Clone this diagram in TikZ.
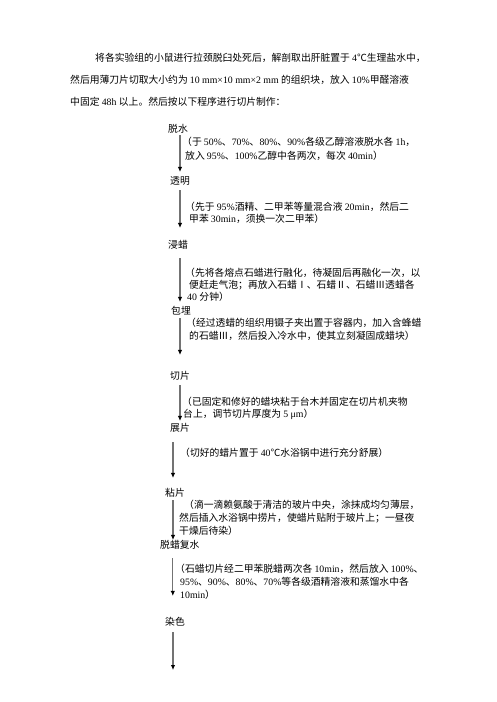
\documentclass[tikz,border=0pt]{standalone}
\usepackage{fontspec}
\setmainfont{Liberation Serif}
\newfontfamily\cjkfont{Noto Sans CJK SC}
\usetikzlibrary{arrows.meta}
% switch to the CJK font for Chinese characters
\XeTeXinterchartokenstate=1
\newXeTeXintercharclass\cjkclass
\newcount\cjkcount
\newcommand\cjkrange[2]{\cjkcount=#1\relax\loop\XeTeXcharclass\cjkcount=\cjkclass\advance\cjkcount by 1\relax\ifnum\cjkcount<#2\relax\repeat}
\cjkrange{"4E00}{"A000}
\cjkrange{"3000}{"3040}
\cjkrange{"FF00}{"FFF0}
\cjkrange{"2103}{"2104}
\cjkrange{"2160}{"2170}
\XeTeXinterchartoks 0 \cjkclass = {\cjkfont}
\XeTeXinterchartoks 4095 \cjkclass = {\cjkfont}
\XeTeXinterchartoks \cjkclass 0 = {\rmfamily}
\XeTeXinterchartoks 4095 0 = {\rmfamily}

\begin{document}
\begin{tikzpicture}[x=1pt, y=-1pt,
	font=\fontsize{9.8}{12}\selectfont,
	every node/.style={inner sep=0pt, anchor=west, text height=8.6pt, text depth=1.2pt},
	flow/.style={draw=black!55, line width=1.2pt, -{Latex[length=5pt, width=4.5pt, color=black]}}]
	\useasboundingbox (0,0) rectangle (496,702);
	% Intro
	\node (introa) at (95,58) {将各实验组的小鼠进行拉颈脱臼处死后，解剖取出肝脏置于 4℃生理盐水中，};
	\node (introb) at (70,80) {然后用薄刀片切取大小约为 10 mm×10 mm×2 mm 的组织块，放入 10\%甲醛溶液};
	\node (introc) at (70,102) {中固定 48h 以上。然后按以下程序进行切片制作：};
	% Steps
	\node (tuoshui) at (168,129) {脱水};
	\node (touming) at (170,181) {透明};
	\node (jinla) at (168,245) {浸蜡};
	\node (baomai) at (171,311) {包埋};
	\node (qiepian) at (170,376) {切片};
	\node (zhanpian) at (170,428) {展片};
	\node (nianpian) at (165,493) {粘片};
	\node (tuola) at (160,545) {脱蜡复水};
	\node (ranse) at (165,622) {染色};
	\coordinate (rsend) at (173,670);
	% Notes
	\node (tsa) at (182,142) {（于 50\%、70\%、80\%、90\%各级乙醇溶液脱水各 1h，};
	\node (tsb) at (185,156) {放入 95\%、100\%乙醇中各两次，每次 40min）};
	\node (tma) at (185,207) {（先于 95\%酒精、二甲苯等量混合液 20min，然后二};
	\node (tmb) at (189,219) {甲苯 30min，须换一次二甲苯）};
	\node (jla) at (185,273) {（先将各熔点石蜡进行融化，待凝固后再融化一次，以};
	\node (jlb) at (189,285) {便赶走气泡；再放入石蜡Ⅰ、石蜡Ⅱ、石蜡Ⅲ透蜡各};
	\node (jlc) at (187,297) {40 分钟）};
	\node (bma) at (186,323) {（经过透蜡的组织用镊子夹出置于容器内，加入含蜂蜡};
	\node (bmb) at (189,336) {的石蜡Ⅲ，然后投入冷水中，使其立刻凝固成蜡块）};
	\node (qpa) at (182,402) {（已固定和修好的蜡块粘于台木并固定在切片机夹物};
	\node (qpb) at (183,414) {台上，调节切片厚度为 5 μm）};
	\node (zpa) at (180,453) {（切好的蜡片置于 40℃水浴锅中进行充分舒展）};
	\node (npa) at (184,505) {（滴一滴赖氨酸于清洁的玻片中央，涂抹成均匀薄层，};
	\node (npb) at (179,518) {然后插入水浴锅中捞片，使蜡片贴附于玻片上；一昼夜};
	\node (npc) at (179,531) {干燥后待染）};
	\node (tla) at (175,569) {（石蜡切片经二甲苯脱蜡两次各 10min，然后放入 100\%、};
	\node (tlb) at (180,582) {95\%、90\%、80\%、70\%等各级酒精溶液和蒸馏水中各};
	\node (tlc) at (180,595) {10min）};
	% Arrows
	\draw[flow, shorten <=1pt, shorten >=4pt] ([xshift=2pt]tuoshui.south) -- ([xshift=2pt]tuoshui.south |- touming.north);
	\draw[flow, shorten <=4pt, shorten >=12pt] (touming.south) -- (touming.south |- jinla.north);
	\draw[flow, shorten <=8pt, shorten >=4pt] ([xshift=2pt]jinla.south) -- ([xshift=2pt]jinla.south |- baomai.north);
	\draw[flow, shorten <=2pt, shorten >=16pt] ([xshift=-1pt]baomai.south) -- ([xshift=-1pt]baomai.south |- qiepian.north);
	\draw[flow, shorten <=4pt, shorten >=2pt] (qiepian.south) -- (qiepian.south |- zhanpian.north);
	\draw[flow, shorten <=9pt, shorten >=10pt] ([xshift=-7pt]zhanpian.south) -- ([xshift=-7pt]zhanpian.south |- nianpian.north);
	\draw[flow, shorten <=2pt] ([xshift=-2pt]nianpian.south) -- ([xshift=-2pt]nianpian.south |- tuola.north);
	\draw[flow, shorten <=8pt, shorten >=21pt] ([xshift=-7pt]tuola.south) -- ([xshift=-7pt]tuola.south |- ranse.north);
	\draw[flow, shorten <=5pt] ([xshift=-2pt]ranse.south) -- ([xshift=-2pt]ranse.south |- rsend);
\end{tikzpicture}
\end{document}
